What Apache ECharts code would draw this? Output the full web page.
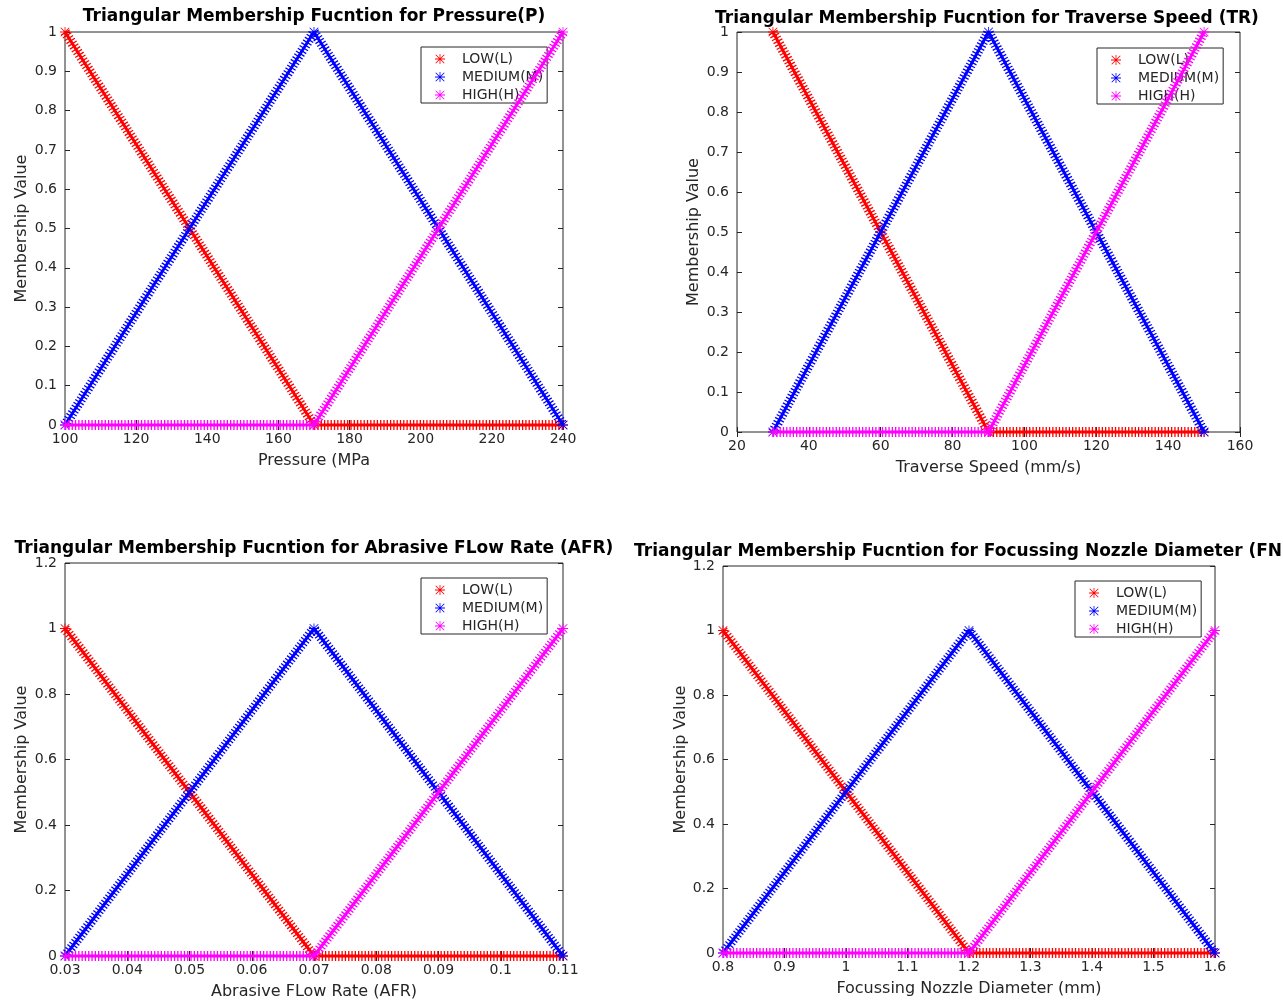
<!DOCTYPE html>
<html>
<head>
<meta charset="utf-8">
<title>Triangular Membership Functions</title>
<script src="https://cdn.jsdelivr.net/npm/echarts@6/dist/echarts.min.js"></script>
<style>
  html, body { margin: 0; padding: 0; background: #fff; }
  #main { width: 1283px; height: 1002px; }
</style>
</head>
<body>
<div id="main"></div>
<script>
// membership values at the three breakpoints of each triangle
const lowMu = [1, 0, 0]
const mediumMu = [0, 1, 0]
const highMu = [0, 0, 1]

// breakpoints (start, peak, end) on each x axis
const pressureBreaks = [100, 170, 240]
const speedBreaks = [30, 90, 150]
const flowBreaks = [0.03, 0.07, 0.11]
const nozzleBreaks = [0.8, 1.2, 1.6]

const seriesNames = ['LOW(L)', 'MEDIUM(M)', 'HIGH(H)']
const seriesColors = ['#ff0000', '#0000ff', '#ff00ff']

const titles = [
  'Triangular Membership Fucntion for Pressure(P)',
  'Triangular Membership Fucntion for Traverse Speed (TR)',
  'Triangular Membership Fucntion for Abrasive FLow Rate (AFR)',
  'Triangular Membership Fucntion for Focussing Nozzle Diameter (FND)'
]
const xNames = ['Pressure (MPa', 'Traverse Speed (mm/s)', 'Abrasive FLow Rate (AFR)', 'Focussing Nozzle Diameter (mm)']
const yName = 'Membership Value'

// axis ranges [min, max, interval]
const xRanges = [[100, 240, 20], [20, 160, 20], [0.03, 0.11, 0.01], [0.8, 1.6, 0.1]]
const yRanges = [[0, 1, 0.1], [0, 1, 0.1], [0, 1.2, 0.2], [0, 1.2, 0.2]]

// matlab style asterisk marker
const starIcon = 'path://M46,0h8v100h-8z M0,46h100v8h-100z M10,4L96,90L90,96L4,10Z M90,4L96,10L10,96L4,90Z'

const panels = [
  { grid: { left: 65, top: 32, width: 498, height: 393 }, title: [314, 8], legend: [421, 47], yGap: 35, breaks: pressureBreaks },
  { grid: { left: 737, top: 32, width: 503, height: 400 }, title: [987, 10], legend: [1097, 48], yGap: 35, breaks: speedBreaks },
  { grid: { left: 65, top: 563, width: 498, height: 393 }, title: [314, 540], legend: [421, 578], yGap: 35, breaks: flowBreaks },
  { grid: { left: 723, top: 566, width: 492, height: 387 }, title: [969, 543], legend: [1075, 581], yGap: 33, breaks: nozzleBreaks }
]

const axisColor = '#262626'
const font = 'DejaVu Sans'

var option = {
  animation: false,
  backgroundColor: '#fff',
  title: [], grid: [], xAxis: [], yAxis: [], legend: [], series: []
}

panels.forEach((p, i) => {
  option.title.push({
    text: titles[i], left: p.title[0], top: p.title[1], textAlign: 'center', padding: 0,
    textStyle: { fontFamily: font, fontSize: 17, fontWeight: 'bold', color: '#000' }
  })
  option.grid.push(Object.assign({ show: true, borderColor: axisColor, borderWidth: 1, backgroundColor: '#fff' }, p.grid))

  let xr = xRanges[i], yr = yRanges[i]
  let tick = { show: true, inside: true, length: 5, lineStyle: { color: axisColor } }
  // bottom + top x axes
  option.xAxis.push({
    type: 'value', gridIndex: i, min: xr[0], max: xr[1], interval: xr[2], position: 'bottom',
    axisLine: { show: false }, axisTick: tick, splitLine: { show: false },
    axisLabel: { color: axisColor, fontFamily: font, fontSize: 14, margin: 7 },
    name: xNames[i], nameLocation: 'middle', nameGap: 28,
    nameTextStyle: { color: axisColor, fontFamily: font, fontSize: 16 }
  })
  option.xAxis.push({
    type: 'value', gridIndex: i, min: xr[0], max: xr[1], interval: xr[2], position: 'top',
    axisLine: { show: false }, axisTick: tick, splitLine: { show: false }, axisLabel: { show: false }
  })
  // left + right y axes
  option.yAxis.push({
    type: 'value', gridIndex: i, min: yr[0], max: yr[1], interval: yr[2], position: 'left',
    axisLine: { show: false }, axisTick: tick, splitLine: { show: false },
    axisLabel: { color: axisColor, fontFamily: font, fontSize: 14, margin: 8 },
    name: yName, nameLocation: 'middle', nameGap: p.yGap, nameRotate: 90,
    nameTextStyle: { color: axisColor, fontFamily: font, fontSize: 16 }
  })
  option.yAxis.push({
    type: 'value', gridIndex: i, min: yr[0], max: yr[1], interval: yr[2], position: 'right',
    axisLine: { show: false }, axisTick: tick, splitLine: { show: false }, axisLabel: { show: false }
  })

  option.legend.push({
    orient: 'vertical', left: p.legend[0], top: p.legend[1],
    backgroundColor: '#fff', borderColor: axisColor, borderWidth: 1, borderRadius: 0,
    padding: [5, 4, 1, 14], itemWidth: 34, itemHeight: 10, itemGap: 4,
    selectedMode: false,
    textStyle: { color: axisColor, fontFamily: font, fontSize: 14, lineHeight: 14 },
    itemStyle: { borderWidth: 0 },
    data: seriesNames.map(n => ({ name: n, icon: starIcon }))
  })

  let mus = [lowMu, mediumMu, highMu]
  mus.forEach((mu, k) => {
    let pts = p.breaks.map((x, j) => [x, mu[j]])
    // wide hatched band to look like the packed asterisks
    option.series.push({
      type: 'line', name: seriesNames[k], xAxisIndex: 2 * i, yAxisIndex: 2 * i,
      data: pts, showSymbol: false, clip: false, z: 2 + k,
      itemStyle: { color: seriesColors[k], borderWidth: 0 },
      lineStyle: { color: seriesColors[k], width: 10, type: [1.3, 2] },
      emphasis: { disabled: true }
    })
    // solid core with markers at the breakpoints
    option.series.push({
      type: 'line', name: seriesNames[k], xAxisIndex: 2 * i, yAxisIndex: 2 * i,
      data: pts, symbol: starIcon, symbolSize: 10, showSymbol: true, clip: false, z: 2 + k,
      itemStyle: { color: seriesColors[k], borderWidth: 0 },
      lineStyle: { color: seriesColors[k], width: 3 },
      emphasis: { disabled: true }
    })
  })
})

var chart = echarts.init(document.getElementById('main'), null, { renderer: 'canvas' })
chart.setOption(option)
</script>
</body>
</html>
